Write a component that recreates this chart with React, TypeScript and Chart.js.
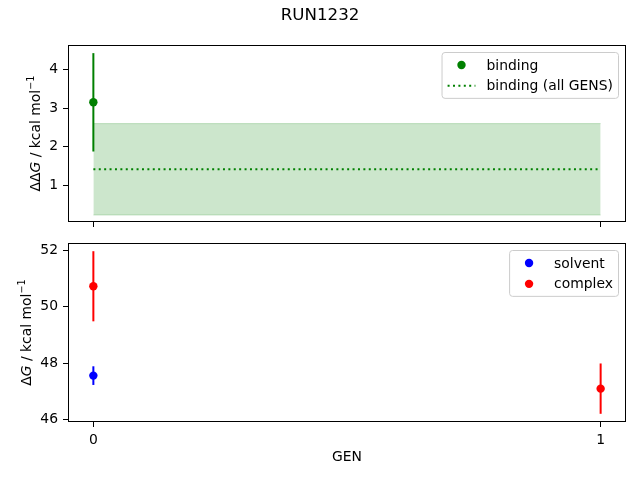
import { useEffect, useRef } from "react";
import { Chart, registerables } from "chart.js";

Chart.register(...registerables);

const FONT = "DejaVu Sans";
const FS = 13.9; // 10pt at 100 dpi

// x axis: GEN
const gens = [0, 1];
const genLabels = ["0", "1"];

// top panel: binding
const bindingGens = [0];
const binding = [3.15];
const bindingErr = [1.27];
const bindingAll = 1.42;
const bindingAllErr = 1.18;
const ddgTicks = [1, 2, 3, 4];

// bottom panel: solvent / complex
const solventGens = [0];
const solvent = [47.56];
const solventErr = [0.33];
const complexGens = [0, 1];
const complex = [50.72, 47.1];
const complexErr = [1.24, 0.89];
const dgTicks = [46, 48, 50, 52];

const GREEN = "#008000";
const BLUE = "#0000ff";
const RED = "#ff0000";

const points = (label: string, xs: number[], ys: number[], color: string) => ({
  label,
  data: xs.map((x, i) => ({ x, y: ys[i] })),
  pointRadius: 4.2,
  pointHoverRadius: 4.2,
  pointBackgroundColor: color,
  pointBorderWidth: 0,
  showLine: false,
});

const errorBars = (xs: number[], ys: number[], errs: number[], color: string) =>
  xs.map((x, i) => ({
    label: "",
    data: [
      { x, y: ys[i] - errs[i] },
      { x, y: ys[i] + errs[i] },
    ],
    borderColor: color,
    borderWidth: 2,
    pointRadius: 0,
    showLine: true,
  }));

type Entry = { label: string; color: string; dotted?: boolean };

// axes frame, matplotlib-style legend box, rich y label, optional suptitle
const decor = (entries: Entry[], greek: string, suptitle?: string) => ({
  id: "decor",
  afterDraw(chart: any) {
    const { ctx, chartArea: a } = chart;
    ctx.save();

    ctx.strokeStyle = "#000";
    ctx.lineWidth = 1;
    ctx.strokeRect(Math.round(a.left) + 0.5, Math.round(a.top) + 0.5, Math.round(a.right) - Math.round(a.left) - 1, Math.round(a.bottom) - Math.round(a.top) - 1);

    // legend
    ctx.font = `${FS}px ${FONT}`;
    const tw = Math.max(...entries.map((e) => ctx.measureText(e.label).width));
    const pad = 0.4 * FS, handle = 2 * FS, gap = 0.8 * FS, spacing = 0.5 * FS;
    const w = pad + handle + gap + tw + pad;
    const h = 2 * pad + entries.length * FS + (entries.length - 1) * spacing;
    const lx = a.right - 7.5 - w;
    const ly = a.top + 7.5;
    ctx.beginPath();
    ctx.roundRect(lx, ly, w, h, 3);
    ctx.fillStyle = "rgba(255,255,255,0.8)";
    ctx.fill();
    ctx.strokeStyle = "#cccccc";
    ctx.stroke();
    entries.forEach((e, i) => {
      const cy = ly + pad + FS / 2 + i * (FS + spacing);
      if (e.dotted) {
        ctx.beginPath();
        ctx.setLineDash([2, 3.4]);
        ctx.strokeStyle = e.color;
        ctx.lineWidth = 2;
        ctx.moveTo(lx + pad, cy);
        ctx.lineTo(lx + pad + handle, cy);
        ctx.stroke();
        ctx.setLineDash([]);
      } else {
        ctx.beginPath();
        ctx.fillStyle = e.color;
        ctx.arc(lx + pad + handle / 2, cy, 4.2, 0, Math.PI * 2);
        ctx.fill();
      }
      ctx.fillStyle = "#000";
      ctx.textBaseline = "middle";
      ctx.textAlign = "left";
      ctx.fillText(e.label, lx + pad + handle + gap, cy + 1);
    });

    // y label: <greek>G / kcal mol^-1, G in italic
    const ys = chart.scales.y;
    ctx.font = `${FS}px ${FONT}`;
    const labelW = Math.max(...ys.ticks.map((t: any) => ctx.measureText(String(t.label)).width));
    const baseX = ys.right - 10 - labelW - 5.6 - 3.3;
    const cy = (a.top + a.bottom) / 2;
    const segs = [
      { t: greek, f: `${FS}px ${FONT}`, dy: 0 },
      { t: "G", f: `italic ${FS}px ${FONT}`, dy: 0 },
      { t: " / kcal mol", f: `${FS}px ${FONT}`, dy: 0 },
      { t: "\u22121", f: `${FS * 0.7}px ${FONT}`, dy: -6.3 },
    ];
    const widths = segs.map((s) => {
      ctx.font = s.f;
      return ctx.measureText(s.t).width;
    });
    const total = widths.reduce((p, c) => p + c, 0);
    ctx.translate(baseX, cy);
    ctx.rotate(-Math.PI / 2);
    ctx.textBaseline = "alphabetic";
    ctx.fillStyle = "#000";
    let x = -total / 2;
    segs.forEach((s, i) => {
      ctx.font = s.f;
      ctx.fillText(s.t, x, s.dy);
      x += widths[i];
    });
    ctx.setTransform(1, 0, 0, 1, 0, 0);

    if (suptitle) {
      ctx.font = `${FS * 1.2}px ${FONT}`;
      ctx.textAlign = "center";
      ctx.textBaseline = "middle";
      ctx.fillText(suptitle, 320, 16);
    }
    ctx.restore();
  },
});

const tickFont = { family: FONT, size: FS };

const xAxis = (showLabels: boolean, height: number) => ({
  type: "linear",
  min: -0.05,
  max: 1.05,
  afterBuildTicks: (s: any) => {
    s.ticks = gens.map((value) => ({ value }));
  },
  afterFit: (s: any) => {
    s.height = height;
  },
  ticks: {
    callback: (_v: any, i: number) => (showLabels ? genLabels[i] : ""),
    color: "#000",
    font: tickFont,
    padding: 5,
    maxRotation: 0,
    autoSkip: false,
  },
  grid: { drawOnChartArea: false, tickLength: 5, tickColor: "#000", lineWidth: 1 },
  border: { display: false },
  title: {
    display: showLabels,
    text: "GEN",
    color: "#000",
    font: tickFont,
    padding: { top: 0, bottom: 14.7 },
  },
});

const yAxis = (min: number, max: number, ticks: number[]) => ({
  type: "linear",
  min,
  max,
  afterBuildTicks: (s: any) => {
    s.ticks = ticks.map((value) => ({ value }));
  },
  afterFit: (s: any) => {
    s.width = 68;
  },
  ticks: { color: "#000", font: tickFont, padding: 5 },
  grid: { drawOnChartArea: false, tickLength: 5, tickColor: "#000", lineWidth: 1 },
  border: { display: false },
});

export default function App() {
  const topRef = useRef<HTMLCanvasElement>(null);
  const bottomRef = useRef<HTMLCanvasElement>(null);

  useEffect(() => {
    if (!topRef.current || !bottomRef.current) return;

    const topChart = new Chart(topRef.current, {
      type: "scatter",
      data: {
        datasets: [
          points("binding", bindingGens, binding, GREEN),
          ...errorBars(bindingGens, binding, bindingErr, GREEN),
          {
            label: "binding (all GENS)",
            data: gens.map((x) => ({ x, y: bindingAll })),
            borderColor: GREEN,
            borderWidth: 2,
            borderDash: [2, 3.4],
            pointRadius: 0,
            showLine: true,
          },
          {
            label: "",
            data: gens.map((x) => ({ x, y: bindingAll - bindingAllErr })),
            borderColor: "rgba(0,128,0,0.2)",
            borderWidth: 1,
            pointRadius: 0,
            showLine: true,
            fill: false,
          },
          {
            label: "",
            data: gens.map((x) => ({ x, y: bindingAll + bindingAllErr })),
            borderColor: "rgba(0,128,0,0.2)",
            backgroundColor: "rgba(0,128,0,0.2)",
            borderWidth: 1,
            pointRadius: 0,
            showLine: true,
            fill: "-1",
          },
        ] as any,
      },
      options: {
        animation: false,
        responsive: true,
        maintainAspectRatio: false,
        events: [],
        layout: { padding: { top: 45, right: 14, left: 0, bottom: 0 } },
        plugins: { legend: { display: false }, tooltip: { enabled: false } },
        scales: {
          x: xAxis(false, 14) as any,
          y: yAxis(0.06, 4.63, ddgTicks) as any,
        },
      },
      plugins: [
        decor(
          [
            { label: "binding", color: GREEN },
            { label: "binding (all GENS)", color: GREEN, dotted: true },
          ],
          "\u0394\u0394",
          "RUN1232"
        ),
      ],
    });

    const bottomChart = new Chart(bottomRef.current, {
      type: "scatter",
      data: {
        datasets: [
          points("complex", complexGens, complex, RED),
          ...errorBars(complexGens, complex, complexErr, RED),
          points("solvent", solventGens, solvent, BLUE),
          ...errorBars(solventGens, solvent, solventErr, BLUE),
        ] as any,
      },
      options: {
        animation: false,
        responsive: true,
        maintainAspectRatio: false,
        events: [],
        layout: { padding: { top: 17, right: 14, left: 0, bottom: 0 } },
        plugins: { legend: { display: false }, tooltip: { enabled: false } },
        scales: {
          x: xAxis(true, 58) as any,
          y: yAxis(45.92, 52.25, dgTicks) as any,
        },
      },
      plugins: [
        decor(
          [
            { label: "solvent", color: BLUE },
            { label: "complex", color: RED },
          ],
          "\u0394"
        ),
      ],
    });

    return () => {
      topChart.destroy();
      bottomChart.destroy();
    };
  }, []);

  return (
    <div style={{ position: "fixed", left: 0, top: 0, width: 640, height: 480, background: "#fff" }}>
      <div style={{ position: "absolute", left: 0, top: 0, width: 640, height: 236 }}>
        <canvas ref={topRef}></canvas>
      </div>
      <div style={{ position: "absolute", left: 0, top: 226, width: 640, height: 254 }}>
        <canvas ref={bottomRef}></canvas>
      </div>
    </div>
  );
}
